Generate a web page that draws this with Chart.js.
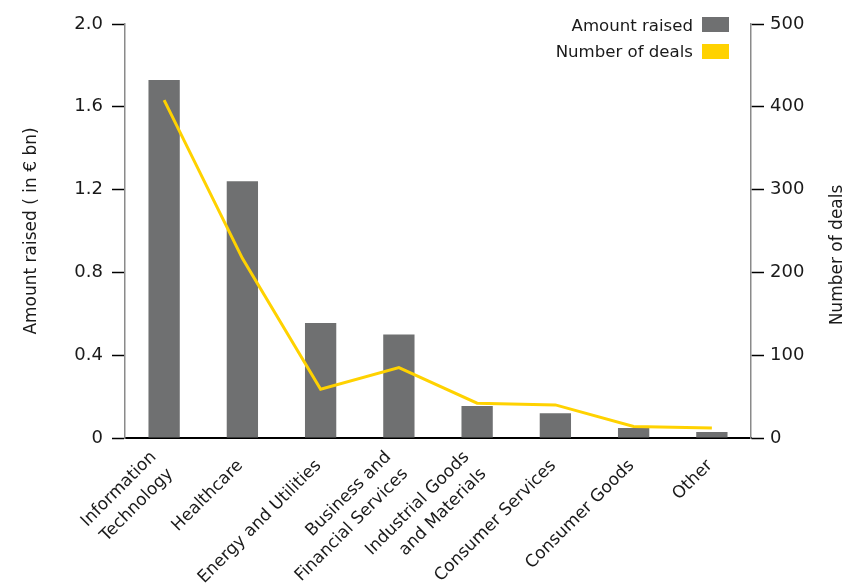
<!DOCTYPE html>
<html>
<head>
<meta charset="utf-8">
<script src="https://cdn.jsdelivr.net/npm/chart.js@4"></script>
<style>
  html, body { margin: 0; padding: 0; background: #ffffff; }
  #wrap { width: 853px; height: 585px; position: relative; }
</style>
</head>
<body>
<div id="wrap"><canvas id="c" width="853" height="585"></canvas></div>
<script>
const categories = [
  ["Information", "Technology"],
  "Healthcare",
  "Energy and Utilities",
  ["Business and", "Financial Services"],
  ["Industrial Goods", "and Materials"],
  "Consumer Services",
  "Consumer Goods",
  "Other"
];
const amountRaised = [1.73, 1.24, 0.556, 0.50, 0.155, 0.12, 0.048, 0.029];
const numberOfDeals = [408, 217, 59, 85, 42, 40, 14, 12];
const leftTicks = [0, 0.4, 0.8, 1.2, 1.6, 2.0];
const rightTicks = [0, 100, 200, 300, 400, 500];

const FONT = "'DejaVu Sans', sans-serif";
const TXT = '#1a1a1a';
const GRAY = '#6f7071';
const YELLOW = '#ffd200';

const customText = {
  id: 'customText',
  afterDraw(chart) {
    const ctx = chart.ctx;
    ctx.save();
    // legend: text on the left, swatch on the right
    ctx.font = '16.6px ' + FONT;
    ctx.textAlign = 'right';
    ctx.textBaseline = 'alphabetic';
    const rows = [{y: 17, base: 31}, {y: 44, base: 57}];
    chart.data.datasets.forEach((ds, i) => {
      const r = rows[i];
      ctx.fillStyle = ds.legendColor;
      ctx.fillRect(702, r.y, 27, 15);
      ctx.fillStyle = TXT;
      ctx.fillText(ds.label, 693, r.base);
    });
    ctx.restore();

    // right axis title, reading bottom to top
    ctx.save();
    ctx.font = '17px ' + FONT;
    ctx.fillStyle = TXT;
    ctx.translate(838, 255);
    ctx.rotate(-Math.PI / 2);
    ctx.textAlign = 'center';
    ctx.textBaseline = 'middle';
    ctx.fillText(chart.scales.y1.options.titleText, 0, 0);
    ctx.restore();

    // category labels, rotated 45 degrees, block centred on the tick
    const xs = chart.scales.x;
    const LH = 24;
    ctx.save();
    ctx.font = '17px ' + FONT;
    ctx.fillStyle = TXT;
    ctx.textAlign = 'right';
    ctx.textBaseline = 'middle';
    chart.data.labels.forEach((lab, i) => {
      const lines = Array.isArray(lab) ? lab : [lab];
      const px = xs.getPixelForTick(i) - 2;
      const py = xs.top + 25;
      ctx.save();
      ctx.translate(px, py);
      ctx.rotate(-Math.PI / 4);
      lines.forEach((ln, j) => {
        ctx.fillText(ln, 0, (j - (lines.length - 1) / 2) * LH);
      });
      ctx.restore();
    });
    ctx.restore();
  }
};

new Chart(document.getElementById('c'), {
  data: {
    labels: categories,
    datasets: [
      {
        type: 'bar',
        label: 'Amount raised',
        data: amountRaised,
        yAxisID: 'y',
        backgroundColor: GRAY,
        legendColor: GRAY,
        categoryPercentage: 1.0,
        barPercentage: 0.4,
        order: 1
      },
      {
        type: 'line',
        label: 'Number of deals',
        data: numberOfDeals,
        yAxisID: 'y1',
        borderColor: YELLOW,
        backgroundColor: YELLOW,
        legendColor: YELLOW,
        borderWidth: 3,
        pointRadius: 0,
        tension: 0,
        order: 0
      }
    ]
  },
  options: {
    responsive: false,
    animation: false,
    layout: { padding: { top: 24, left: 0, right: 0, bottom: 0 } },
    plugins: {
      legend: { display: false },
      tooltip: { enabled: false }
    },
    scales: {
      x: {
        grid: { display: false, drawTicks: false },
        border: { display: true, color: '#000000', width: 2 },
        ticks: { display: false },
        afterFit(s) { s.height = 147; }
      },
      y: {
        position: 'left',
        min: 0,
        max: 2.0,
        afterBuildTicks(s) { s.ticks = leftTicks.map(v => ({ value: v })); },
        ticks: {
          padding: 9,
          color: TXT,
          font: { family: FONT, size: 18 },
          callback: v => (v === 0 ? '0' : v.toFixed(1))
        },
        grid: { drawOnChartArea: false, drawTicks: true, tickLength: 13, tickColor: '#000000', tickWidth: 1.5 },
        border: { display: true, color: '#8a8a8a', width: 1.5 },
        title: {
          display: true,
          text: 'Amount raised ( in € bn)',
          color: TXT,
          font: { family: FONT, size: 17 },
          padding: { top: 21, bottom: 0 }
        },
        afterFit(s) { s.width = 125; }
      },
      y1: {
        position: 'right',
        min: 0,
        max: 500,
        titleText: 'Number of deals',
        afterBuildTicks(s) { s.ticks = rightTicks.map(v => ({ value: v })); },
        ticks: {
          padding: 6,
          color: TXT,
          font: { family: FONT, size: 18 }
        },
        grid: { drawOnChartArea: false, drawTicks: true, tickLength: 13, tickColor: '#000000', tickWidth: 1.5 },
        border: { display: true, color: '#8a8a8a', width: 1.5 },
        afterFit(s) { s.width = 102; }
      }
    }
  },
  plugins: [customText]
});
</script>
</body>
</html>
